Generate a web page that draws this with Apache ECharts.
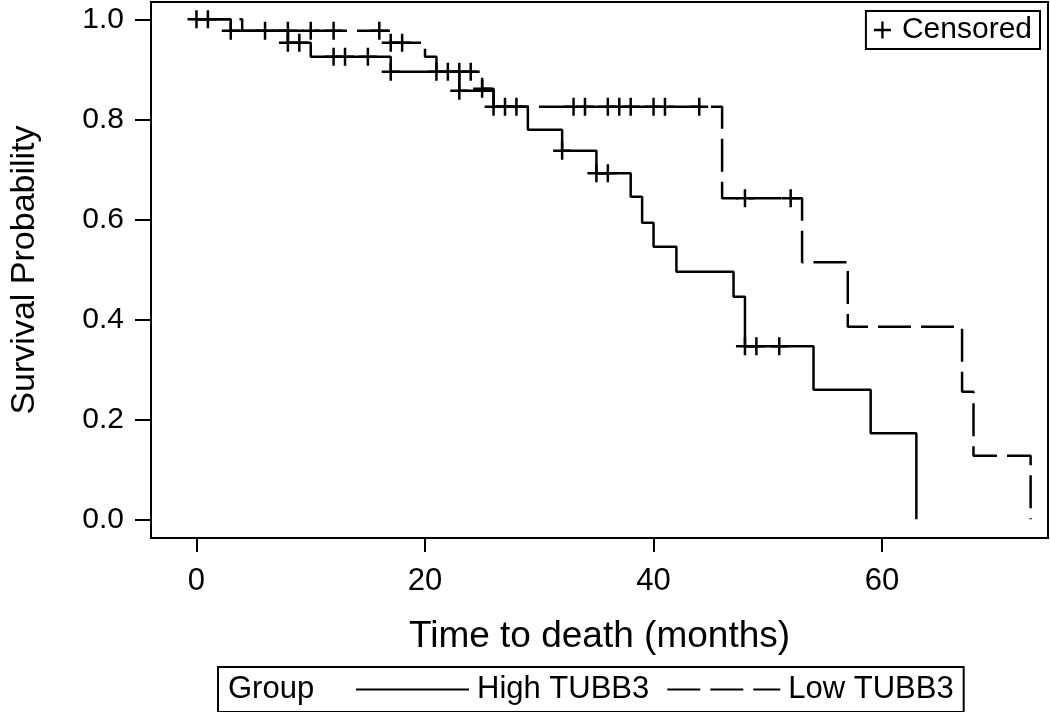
<!DOCTYPE html>
<html>
<head>
<meta charset="utf-8">
<script src="https://cdn.jsdelivr.net/npm/echarts@6/dist/echarts.min.js"></script>
<style>
  html, body { margin: 0; padding: 0; background: #fff; }
  #chart { width: 1050px; height: 712px; }
</style>
</head>
<body>
<div id="chart"></div>
<script>
// ---- Data ----
const xTicks = [0, 20, 40, 60];
const yTicks = [0, 0.2, 0.4, 0.6, 0.8, 1.0];

// High TUBB3 (solid): event times and survival after each step
const highTimes = [0, 3, 8, 10, 17, 23, 26, 29, 32, 35, 38, 39, 40, 42, 47, 48, 54, 59, 63];
const highSurv  = [1.0, 0.977, 0.953, 0.925, 0.895, 0.857, 0.825, 0.779, 0.737, 0.692, 0.645, 0.593, 0.545, 0.495, 0.445, 0.346, 0.259, 0.172, 0.0];
const highCensored = [0, 3, 8, 9, 12, 13, 15, 17, 23, 26, 27, 28, 32, 35, 36, 48, 49, 51];

// Low TUBB3 (dashed)
const lowTimes = [0, 4, 17, 20, 21, 25, 26, 46, 53, 57, 67, 68, 73];
const lowSurv  = [1.0, 0.977, 0.953, 0.925, 0.895, 0.861, 0.825, 0.642, 0.514, 0.385, 0.255, 0.127, 0.0];
const lowCensored = [1, 6, 8, 10, 12, 16, 17, 18, 21, 22, 23, 24, 25, 33, 34, 36, 37, 38, 40, 41, 44, 48, 52];

const groupNames = ['High TUBB3', 'Low TUBB3'];

// ---- Helpers ----
function stepPoints(times, surv) { return times.map((t, i) => [t, surv[i]]); }
function survAt(times, surv, t) {
  let s = surv[0];
  for (let i = 0; i < times.length; i++) { if (times[i] <= t) s = surv[i]; }
  return s;
}
function censorPoints(cens, times, surv) { return cens.map(t => [t, survAt(times, surv, t)]); }

const FONT = 'Liberation Sans, Arial, Helvetica, sans-serif';
const PLUS = 'path://M-1.25,-9L1.25,-9L1.25,-1.25L9,-1.25L9,1.25L1.25,1.25L1.25,9L-1.25,9L-1.25,1.25L-9,1.25L-9,-1.25L-1.25,-1.25Z';

const chart = echarts.init(document.getElementById('chart'), null, { renderer: 'canvas' });

const option = {
  animation: false,
  backgroundColor: '#fff',
  textStyle: { fontFamily: FONT, color: '#000' },
  grid: {
    left: 140, right: 2, top: 2, bottom: 174,
    show: true, borderColor: '#000', borderWidth: 2, backgroundColor: 'transparent'
  },
  xAxis: {
    type: 'value',
    min: -3.98, max: 74.52,
    name: 'Time to death (months)',
    nameLocation: 'middle',
    nameGap: 80,
    nameTextStyle: { fontSize: 37, color: '#000', fontFamily: FONT },
    axisLine: { show: true, onZero: false, lineStyle: { color: '#000', width: 2 } },
    axisTick: { show: true, customValues: xTicks, length: 14, lineStyle: { color: '#000', width: 2 } },
    axisLabel: { show: true, customValues: xTicks, fontSize: 31, margin: 28, color: '#000', fontFamily: FONT },
    splitLine: { show: false }
  },
  yAxis: {
    type: 'value',
    min: -0.0374, max: 1.0346,
    name: 'Survival Probability',
    nameLocation: 'middle',
    nameGap: 109,
    nameTextStyle: { fontSize: 34, color: '#000', fontFamily: FONT },
    axisLine: { show: true, onZero: false, lineStyle: { color: '#000', width: 2 } },
    axisTick: { show: true, customValues: yTicks, length: 16, lineStyle: { color: '#000', width: 2 } },
    axisLabel: { show: true, customValues: yTicks, fontSize: 30, margin: 27, color: '#000', fontFamily: FONT,
      formatter: v => Number(v).toFixed(1) },
    splitLine: { show: false }
  },
  legend: [
    {
      data: groupNames,
      left: 218, top: 667,
      orient: 'horizontal',
      padding: [7, 10, 7, 137],
      itemGap: 17,
      itemWidth: 113, itemHeight: 14,
      borderColor: '#000', borderWidth: 2, borderRadius: 0,
      selectedMode: false,
      itemStyle: { color: 'rgba(0,0,0,0)', borderColor: 'rgba(0,0,0,0)', borderWidth: 0 },
      textStyle: { fontSize: 31, color: '#000', fontFamily: FONT, padding: [0, 0, 0, 3] }
    },
    {
      data: ['Censored'],
      right: 10, top: 11,
      padding: [4, 8, 4, 8],
      itemWidth: 17, itemHeight: 17,
      borderColor: '#000', borderWidth: 2, borderRadius: 0,
      selectedMode: false,
      textStyle: { fontSize: 30, color: '#000', fontFamily: FONT, padding: [0, 0, 0, 6] }
    }
  ],
  graphic: [
    { type: 'text', left: 228, top: 674, silent: true,
      style: { text: 'Group', fontSize: 31, fill: '#000', fontFamily: FONT } }
  ],
  series: [
    {
      name: groupNames[0], type: 'line', step: 'end', symbol: 'none',
      data: stepPoints(highTimes, highSurv),
      lineStyle: { color: '#000', width: 2.5, type: 'solid' },
      itemStyle: { color: '#000' }, z: 3, silent: true
    },
    {
      name: groupNames[1], type: 'line', step: 'end', symbol: 'none',
      data: stepPoints(lowTimes, lowSurv),
      lineStyle: { color: '#000', width: 2.5, type: [33, 10] },
      itemStyle: { color: '#000' }, z: 3, silent: true
    },
    {
      name: 'Censored', type: 'scatter', symbol: PLUS, symbolSize: 18,
      data: censorPoints(highCensored, highTimes, highSurv),
      itemStyle: { color: '#000', opacity: 1 }, z: 4, silent: true
    },
    {
      name: 'Censored', type: 'scatter', symbol: PLUS, symbolSize: 18,
      data: censorPoints(lowCensored, lowTimes, lowSurv),
      itemStyle: { color: '#000', opacity: 1 }, z: 4, silent: true
    }
  ]
};

chart.setOption(option);
</script>
</body>
</html>
